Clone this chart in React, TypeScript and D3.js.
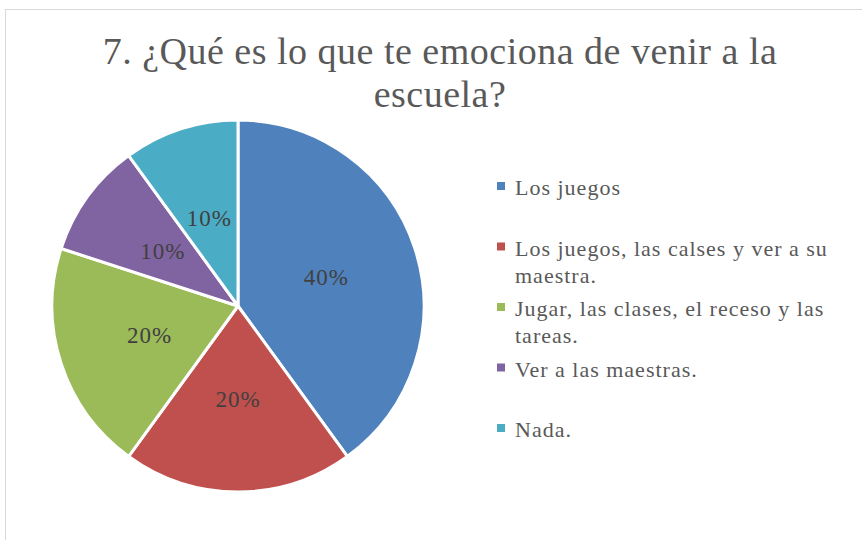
import React from 'react';
import * as d3 from 'd3';

// chart data
const categories = [
    'Los juegos',
    'Los juegos, las calses y ver a su maestra.',
    'Jugar, las clases, el receso y las tareas.',
    'Ver a las maestras.',
    'Nada.'
];
const values = [40, 20, 20, 10, 10];
const colors = ['#4F81BD', '#C0504D', '#9BBB59', '#8064A2', '#4BACC6'];
// legend text as it wraps in the original
const legendLines = [
    ['Los juegos'],
    ['Los juegos, las calses y ver a su', 'maestra.'],
    ['Jugar, las clases, el receso y las', 'tareas.'],
    ['Ver a las maestras.'],
    ['Nada.']
];
const titleLines = ['7. ¿Qué es lo que te emociona de venir a la', 'escuela?'];

const width = 862;
const height = 540;
const cx = 238;
const cy = 306;
const radius = 186;
const font = '"Liberation Serif", "Times New Roman", serif';

const App = () => {
    const total = d3.sum(values);
    const pie = d3.pie<number>().sort(null).value((d) => d);
    const arc = d3.arc<d3.PieArcDatum<number>>().innerRadius(0).outerRadius(radius);
    const arcs = pie(values);

    return <svg width={width} height={height}
                style={{position: 'absolute', left: 0, top: 0, background: '#fff'}}>
        <rect x={5.5} y={9.5} width={900} height={600} fill="#fff" stroke="#D9D9D9" strokeWidth={1}/>

        {/* title */}
        {titleLines.map((t, i) => (
            <text key={i} x={440} y={64 + i * 43} textAnchor="middle" letterSpacing={0.5}
                  fontFamily={font} fontSize={38} fill="#595959">{t}</text>
        ))}

        {/* slices */}
        <g transform={`translate(${cx},${cy})`}>
            {arcs.map((d, i) => (
                <path key={i} d={arc(d) || ''} fill={colors[i]} stroke="#fff" strokeWidth={3}
                      strokeLinejoin="round"/>
            ))}
            {arcs.map((d, i) => {
                const [x, y] = arc.centroid(d);
                return <text key={'l' + i} x={x} y={y + 8} textAnchor="middle" letterSpacing={1}
                             fontFamily={font} fontSize={23} fill="#404040">
                    {Math.round(d.data / total * 100) + '%'}
                </text>;
            })}
        </g>

        {/* legend */}
        {legendLines.map((lines, i) => {
            const base = 195 + i * 60.5;
            return <g key={i}>
                <rect x={497} y={base - 13} width={8} height={8} fill={colors[i]}/>
                {lines.map((l, j) => (
                    <text key={j} x={515} y={base + j * 27} fontFamily={font} fontSize={22}
                          letterSpacing={1} fill="#595959">{l}</text>
                ))}
            </g>;
        })}
    </svg>;
};

export default App;
